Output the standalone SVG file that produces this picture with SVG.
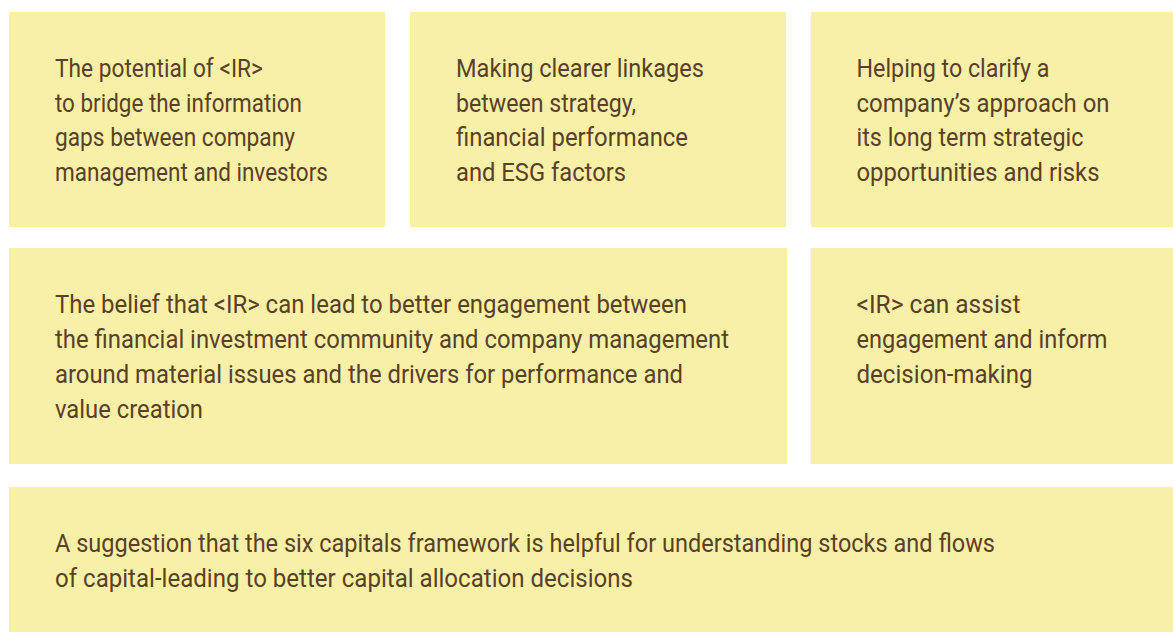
<svg xmlns="http://www.w3.org/2000/svg" width="1173" height="632" viewBox="0 0 1173 632">
<style>
.box{fill:#F7F0A6;}
.t{font-family:"Liberation Sans Narrow","Roboto","Liberation Sans",sans-serif;font-size:26.3px;fill:#5A4029;}
</style>
<rect x="0" y="0" width="1173" height="632" fill="#FFFFFF"/>
<g id="node-potential">
<rect class="box" x="9" y="12" width="376" height="215"/>
<text class="t"><tspan x="55" y="77" textLength="208" lengthAdjust="spacingAndGlyphs">The potential of &lt;IR&gt;</tspan></text>
<text class="t"><tspan x="55" y="111.5" textLength="247" lengthAdjust="spacingAndGlyphs">to bridge the information</tspan></text>
<text class="t"><tspan x="55" y="146" textLength="240" lengthAdjust="spacingAndGlyphs">gaps between company</tspan></text>
<text class="t"><tspan x="55" y="180.5" textLength="273" lengthAdjust="spacingAndGlyphs">management and investors</tspan></text>
</g>
<g id="node-linkages">
<rect class="box" x="410" y="12" width="376" height="215"/>
<text class="t"><tspan x="456" y="77" textLength="248" lengthAdjust="spacingAndGlyphs">Making clearer linkages</tspan></text>
<text class="t"><tspan x="456" y="111.5" textLength="180" lengthAdjust="spacingAndGlyphs">between strategy,</tspan></text>
<text class="t"><tspan x="456" y="146" textLength="232" lengthAdjust="spacingAndGlyphs">financial performance</tspan></text>
<text class="t"><tspan x="456" y="180.5" textLength="170" lengthAdjust="spacingAndGlyphs">and ESG factors</tspan></text>
</g>
<g id="node-clarify">
<rect class="box" x="811" y="12" width="362" height="215"/>
<text class="t"><tspan x="856.5" y="77" textLength="193" lengthAdjust="spacingAndGlyphs">Helping to clarify a</tspan></text>
<text class="t"><tspan x="856.5" y="111.5" textLength="253" lengthAdjust="spacingAndGlyphs">company’s approach on</tspan></text>
<text class="t"><tspan x="856.5" y="146" textLength="227" lengthAdjust="spacingAndGlyphs">its long term strategic</tspan></text>
<text class="t"><tspan x="856.5" y="180.5" textLength="243" lengthAdjust="spacingAndGlyphs">opportunities and risks</tspan></text>
</g>
<g id="node-belief">
<rect class="box" x="9" y="248" width="778" height="216"/>
<text class="t"><tspan x="55" y="313" textLength="632" lengthAdjust="spacingAndGlyphs">The belief that &lt;IR&gt; can lead to better engagement between</tspan></text>
<text class="t"><tspan x="55" y="348" textLength="674" lengthAdjust="spacingAndGlyphs">the financial investment community and company management</tspan></text>
<text class="t"><tspan x="55" y="383" textLength="628" lengthAdjust="spacingAndGlyphs">around material issues and the drivers for performance and</tspan></text>
<text class="t"><tspan x="55" y="418" textLength="148" lengthAdjust="spacingAndGlyphs">value creation</tspan></text>
</g>
<g id="node-assist">
<rect class="box" x="811" y="248" width="362" height="216"/>
<text class="t"><tspan x="856.5" y="313" textLength="164" lengthAdjust="spacingAndGlyphs">&lt;IR&gt; can assist</tspan></text>
<text class="t"><tspan x="856.5" y="348" textLength="251" lengthAdjust="spacingAndGlyphs">engagement and inform</tspan></text>
<text class="t"><tspan x="856.5" y="383" textLength="176" lengthAdjust="spacingAndGlyphs">decision-making</tspan></text>
</g>
<g id="node-capitals">
<rect class="box" x="9" y="487" width="1164" height="145"/>
<text class="t"><tspan x="55" y="552" textLength="940" lengthAdjust="spacingAndGlyphs">A suggestion that the six capitals framework is helpful for understanding stocks and flows</tspan></text>
<text class="t"><tspan x="55" y="586.5" textLength="578" lengthAdjust="spacingAndGlyphs">of capital-leading to better capital allocation decisions</tspan></text>
</g>
<g id="connectors"></g>
</svg>
